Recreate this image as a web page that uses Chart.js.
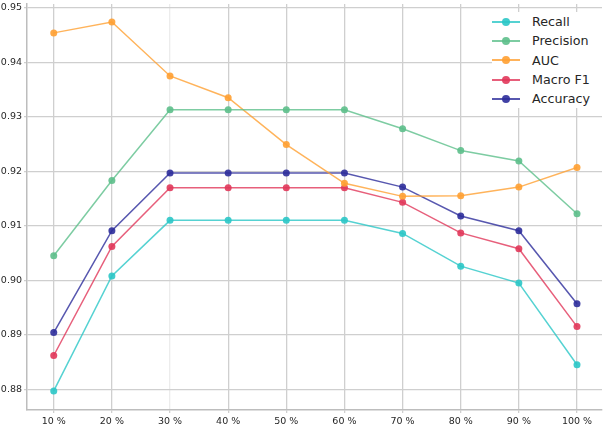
<!DOCTYPE html>
<html>
<head>
<meta charset="utf-8">
<script src="https://cdn.jsdelivr.net/npm/chart.js@4.4.1/dist/chart.umd.min.js"></script>
<style>
    html, body { margin: 0; padding: 0; background: #fff; }
    #wrap { position: relative; width: 606px; height: 426px; }
    #legend {
        position: absolute; left: 492px; top: 12px; width: 111px;
        background: #fff; font-family: "DejaVu Sans", sans-serif; font-size: 12.7px; color: #262626;
    }
    .item { height: 19.3px; display: flex; align-items: center; }
    .swatch { position: relative; width: 28px; height: 2px; margin-right: 12px; }
    .swatch span { position: absolute; left: 10px; top: -3px; width: 8px; height: 8px; border-radius: 50%; }
</style>
</head>
<body>
<div id="wrap">
    <canvas id="metricsChart" width="606" height="426"></canvas>
    <div id="legend"></div>
</div>
<script>
const categories = [10, 20, 30, 40, 50, 60, 70, 80, 90, 100];
const tickLabels = ['10 %', '20 %', '30 %', '40 %', '50 %', '60 %', '70 %', '80 %', '90 %', '100 %'];
const yTicks = [0.88, 0.89, 0.90, 0.91, 0.92, 0.93, 0.94, 0.95];

const recall    = [0.8797, 0.9008, 0.9110, 0.9110, 0.9110, 0.9110, 0.9086, 0.9026, 0.8995, 0.8845];
const precision = [0.9045, 0.9183, 0.9313, 0.9313, 0.9313, 0.9313, 0.9278, 0.9238, 0.9219, 0.9122];
const auc       = [0.9454, 0.9474, 0.9375, 0.9335, 0.9249, 0.9178, 0.9154, 0.9155, 0.9171, 0.9207];
const macroF1   = [0.8862, 0.9062, 0.9170, 0.9170, 0.9170, 0.9170, 0.9143, 0.9087, 0.9058, 0.8915];
const accuracy  = [0.8904, 0.9091, 0.9197, 0.9197, 0.9197, 0.9197, 0.9171, 0.9118, 0.9091, 0.8957];

function makeSeries(label, values, rgb){
    return {
        label: label,
        data: categories.map((c, i) => ({x: c, y: values[i]})),
        borderColor: `rgba(${rgb},0.8)`,
        backgroundColor: `rgba(${rgb},0.9)`,
        borderWidth: 1.5,
        pointRadius: 3.5,
        pointBorderWidth: 0,
        tension: 0,
        fill: false
    };
}

const datasets = [
    makeSeries('Recall', recall, '43,199,199'),
    makeSeries('Precision', precision, '93,191,139'),
    makeSeries('AUC', auc, '255,160,50'),
    makeSeries('Macro F1', macroF1, '225,55,90'),
    makeSeries('Accuracy', accuracy, '45,45,155')
];

const tickFont = { family: 'DejaVu Sans', size: 9.5 };

var metricsChart = new Chart(
    document.getElementById('metricsChart'),
    {
        type: 'line',
        data: { datasets: datasets },
        options: {
            responsive: false,
            animation: false,
            layout: { padding: { left: 0, right: 2, top: 0, bottom: 0 } },
            plugins: {
                legend: { display: false },
                tooltip: { enabled: false }
            },
            scales: {
                x: {
                    type: 'linear',
                    min: 5.4,
                    max: 104.3,
                    afterBuildTicks: function(scale){
                        scale.ticks = categories.map(v => ({value: v}));
                    },
                    afterFit: function(scale){
                        scale.height = 16;
                        scale.paddingLeft = 0;
                        scale.paddingRight = 0;
                    },
                    ticks: {
                        font: tickFont,
                        color: '#262626',
                        padding: 3,
                        maxRotation: 0,
                        callback: function(value){
                            return tickLabels[categories.indexOf(value)];
                        }
                    },
                    grid: {
                        color: function(ctx){
                            return ctx.tick && ctx.tick.value === 30 ? '#ececec' : '#cfcfcf';
                        },
                        lineWidth: 1.3,
                        tickLength: 3,
                        tickColor: '#cfcfcf'
                    },
                    border: { color: '#bdbdbd', width: 1.5 }
                },
                y: {
                    min: 0.8762,
                    max: 0.9507,
                    afterBuildTicks: function(scale){
                        scale.ticks = yTicks.map(v => ({value: v}));
                    },
                    afterFit: function(scale){
                        scale.width = 27;
                        scale.paddingTop = 0;
                        scale.paddingBottom = 0;
                    },
                    ticks: {
                        font: tickFont,
                        color: '#262626',
                        padding: 2,
                        callback: function(value){ return value.toFixed(2); }
                    },
                    grid: {
                        color: '#cfcfcf',
                        lineWidth: 1.3,
                        tickLength: 3,
                        tickColor: '#cfcfcf'
                    },
                    border: { color: '#bdbdbd', width: 1.5 }
                }
            }
        }
    }
);

// legend box inside the plot, like the original
var legendBox = document.getElementById('legend');
for(ds of metricsChart.data.datasets){
    legendBox.insertAdjacentHTML('beforeend', `
        <div class="item">
            <div class="swatch" style="background:${ds.borderColor}"><span style="background:${ds.backgroundColor}"></span></div>
            <div>${ds.label}</div>
        </div>
    `);
}
</script>
</body>
</html>
